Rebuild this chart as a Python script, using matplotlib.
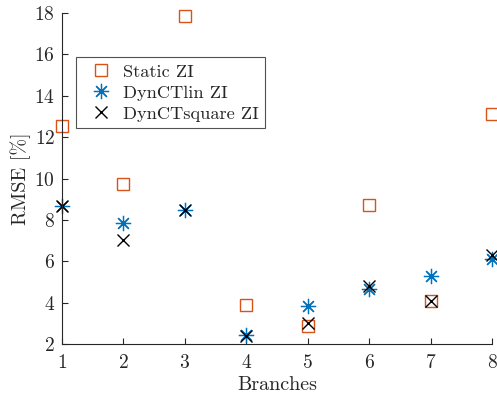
import numpy as np
import matplotlib
matplotlib.use("Agg")
import matplotlib.pyplot as plt

plt.rcParams['font.family'] = 'cmr10'
plt.rcParams['mathtext.fontset'] = 'cm'
plt.rcParams['axes.unicode_minus'] = False
plt.rcParams['axes.formatter.use_mathtext'] = True

branches = [1, 2, 3, 4, 5, 6, 7, 8]
static_zi = [12.55, 9.75, 17.85, 3.87, 2.87, 8.73, 4.1, 13.14]
dynlin_zi = [8.65, 7.85, 8.49, 2.43, 3.83, 4.68, 5.27, 6.12]
dynsq_zi = [8.65, 7.05, 8.5, 2.38, 3.02, 4.79, 4.1, 6.28]

orange = '#D95319'
blue = '#0072BD'
grey = '#262626'

fig = plt.figure(figsize=(4.97, 3.97), dpi=100)
ax = fig.add_axes([0.1247, 0.1335, 0.8652, 0.8337])

ax.plot(branches, static_zi, linestyle='none', marker='s', markersize=8,
        markerfacecolor='none', markeredgecolor=orange, markeredgewidth=1.0,
        label='Static ZI', clip_on=False)
ax.plot(branches, dynlin_zi, linestyle='none', marker=(8, 2, 0), markersize=11,
        color=blue, markeredgewidth=0.9, label='DynCTlin ZI', clip_on=False)
ax.plot(branches, dynsq_zi, linestyle='none', marker='x', markersize=8,
        color='black', markeredgewidth=1.0, label='DynCTsquare ZI', clip_on=False)

ax.set_xlim(1, 8)
ax.set_ylim(2, 18)
ax.set_xticks(branches)
ax.set_yticks(np.arange(2, 19, 2))
ax.spines['top'].set_visible(False)
ax.spines['right'].set_visible(False)
for s in ['left', 'bottom']:
    ax.spines[s].set_color(grey)
    ax.spines[s].set_linewidth(0.8)
ax.tick_params(direction='in', length=4, width=0.8, colors=grey,
               labelsize=14, pad=5)
ax.tick_params(axis='x', pad=7)

ax.set_xlabel('Branches', fontsize=14.5, color=grey, labelpad=3)
ax.set_ylabel('RMSE [%]', fontsize=14.5, color=grey, labelpad=2)

leg = ax.legend(loc='upper left', bbox_to_anchor=(0.033, 0.866), fontsize=13.2,
                frameon=True, fancybox=False, borderpad=0.35, labelspacing=0.28,
                handletextpad=0.2, borderaxespad=0)
leg.get_frame().set_edgecolor(grey)
leg.get_frame().set_linewidth(0.8)
for t in leg.get_texts():
    t.set_color(grey)

fig.savefig('out.png', dpi=100)
